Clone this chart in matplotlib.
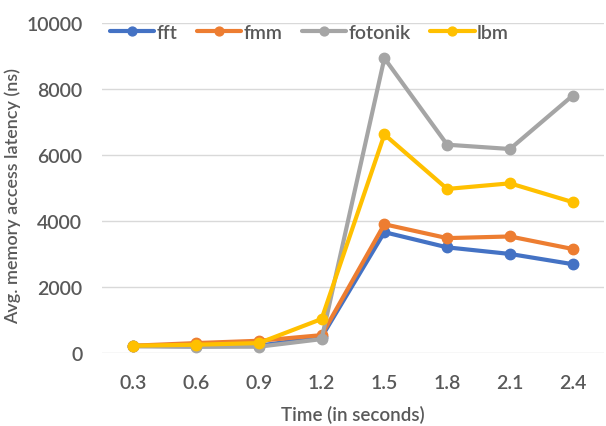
import matplotlib
matplotlib.use("Agg")
import matplotlib.pyplot as plt

times = ["0.3", "0.6", "0.9", "1.2", "1.5", "1.8", "2.1", "2.4"]
fft = [220, 200, 220, 480, 3660, 3200, 3000, 2690]
fmm = [220, 300, 370, 540, 3900, 3480, 3530, 3150]
fotonik = [200, 190, 190, 420, 8930, 6310, 6180, 7800]
lbm = [220, 250, 300, 1030, 6620, 4970, 5140, 4570]

series = [("fft", fft, "#4472C4"),
          ("fmm", fmm, "#ED7D31"),
          ("fotonik", fotonik, "#A5A5A5"),
          ("lbm", lbm, "#FFC000")]

plt.rcParams['font.family'] = ['Lato', 'DejaVu Sans']
txt = "#595959"
fs = 14

fig = plt.figure(figsize=(6.06, 4.27), dpi=100)
ax = fig.add_axes([0.168, 0.171, 0.829, 0.773])

x = range(len(times))
for name, vals, col in series:
    ax.plot(x, vals, color=col, lw=3, marker="o", ms=7.5, label=name,
            solid_capstyle="round")

ax.set_xlim(-0.5, len(times) - 0.5)
ax.set_ylim(0, 10000)
ax.set_yticks([0, 2000, 4000, 6000, 8000, 10000])
ax.set_xticks(list(x))
ax.set_xticklabels(times)
ax.grid(axis="y", color="#D9D9D9", lw=1)
ax.set_axisbelow(True)
for s in ax.spines.values():
    s.set_visible(False)
ax.tick_params(length=0, labelsize=fs, colors=txt)
ax.tick_params(axis="x", pad=15)
ax.tick_params(axis="y", pad=14)
for lab in ax.get_xticklabels() + ax.get_yticklabels():
    lab.set_fontweight("semibold")
ax.set_xlabel("Time (in seconds)", fontsize=13.5, color=txt, labelpad=10,
              fontweight="semibold")
ax.set_ylabel("Avg. memory access latency (ns)", fontsize=13, color=txt,
              fontweight="semibold", va="center")
ax.yaxis.set_label_coords(-0.177, 0.48)

leg = ax.legend(loc="upper left", bbox_to_anchor=(0.0, 1.02), ncol=4, frameon=False,
                prop={"size": fs, "weight": "semibold"}, handlelength=2.3,
                columnspacing=1.0, handletextpad=0.1, borderaxespad=0,
                markerscale=0.85)
for t in leg.get_texts():
    t.set_color(txt)

fig.savefig("out.png", dpi=100)
